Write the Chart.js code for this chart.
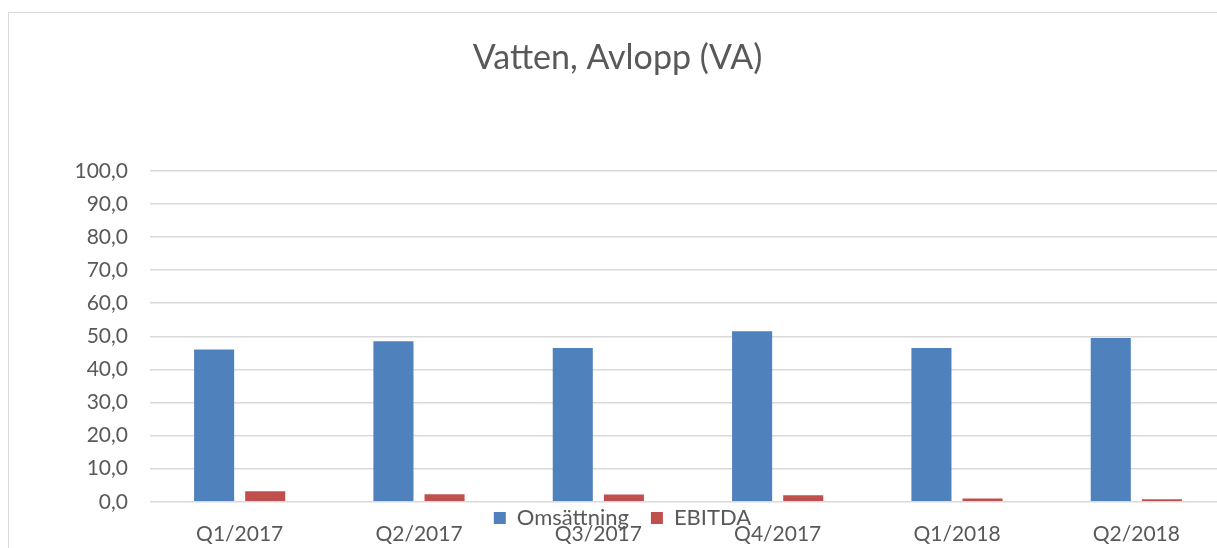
<!DOCTYPE html>
<html>
<head>
<meta charset="utf-8">
<script src="https://cdn.jsdelivr.net/npm/chart.js@4/dist/chart.umd.min.js"></script>
<style>
  html, body { margin: 0; padding: 0; background: #fff; overflow: hidden; }
  #box { position: absolute; left: 8px; top: 12px; width: 1240px; height: 625px;
         border: 1px solid #d9d9d9; background: #fff; }
</style>
</head>
<body>
<div id="box"><canvas id="myChart" width="1240" height="625"></canvas></div>
<script>
var quarters = ['Q1/2017', 'Q2/2017', 'Q3/2017', 'Q4/2017', 'Q1/2018', 'Q2/2018'];
var omsattning = [46.0, 48.5, 46.5, 51.5, 46.5, 49.5];
var ebitda = [3.2, 2.3, 2.2, 2.0, 1.0, 0.8];

var textColor = '#595959';
var fontName = 'Lato, "Liberation Sans", sans-serif';

// the legend sits right under the plot, over the category labels
var legendUp = {
    id: 'legendUp',
    afterLayout: function (chart) {
        var l = chart.legend;
        var h = l.bottom - l.top;
        l.top = 472;
        l.bottom = 472 + h;
        l.left += 5;
        l.right += 5;
    }
};

var ctx = document.getElementById('myChart');

var myChart = new Chart(ctx, {
    type: 'bar',
    data: {
        labels: quarters,
        datasets: [{
            label: 'Omsättning',
            data: omsattning,
            backgroundColor: '#4f81bd',
            borderWidth: 0
        }, {
            label: 'EBITDA',
            data: ebitda,
            backgroundColor: '#c0504d',
            borderWidth: 0
        }]
    },
    plugins: [legendUp],
    options: {
        responsive: false,
        animation: false,
        categoryPercentage: 0.57,
        barPercentage: 0.784,
        layout: { padding: { left: 0, right: 23, top: 0, bottom: 17 } },
        plugins: {
            title: {
                display: true,
                text: 'Vatten, Avlopp (VA)',
                color: textColor,
                font: { family: fontName, size: 34, weight: 'normal' },
                padding: { top: 25, bottom: 92 }
            },
            legend: {
                position: 'bottom',
                labels: {
                    color: textColor,
                    font: { family: fontName, size: 22 },
                    boxWidth: 12,
                    boxHeight: 12,
                    padding: 22
                }
            },
            tooltip: { enabled: false }
        },
        scales: {
            x: {
                grid: { display: false, drawTicks: false },
                border: { display: false },
                ticks: { color: textColor, font: { family: fontName, size: 21 }, padding: 20, maxRotation: 0 }
            },
            y: {
                min: 0,
                max: 100,
                grid: { color: '#d9d9d9', lineWidth: 1.5, drawTicks: false },
                border: { display: false },
                ticks: {
                    stepSize: 10,
                    color: textColor,
                    font: { family: fontName, size: 21 },
                    padding: 22,
                    callback: function (v) { return v.toFixed(1).replace('.', ','); }
                },
                afterFit: function (scale) { scale.width = 141; }
            }
        }
    }
});
</script>
</body>
</html>
